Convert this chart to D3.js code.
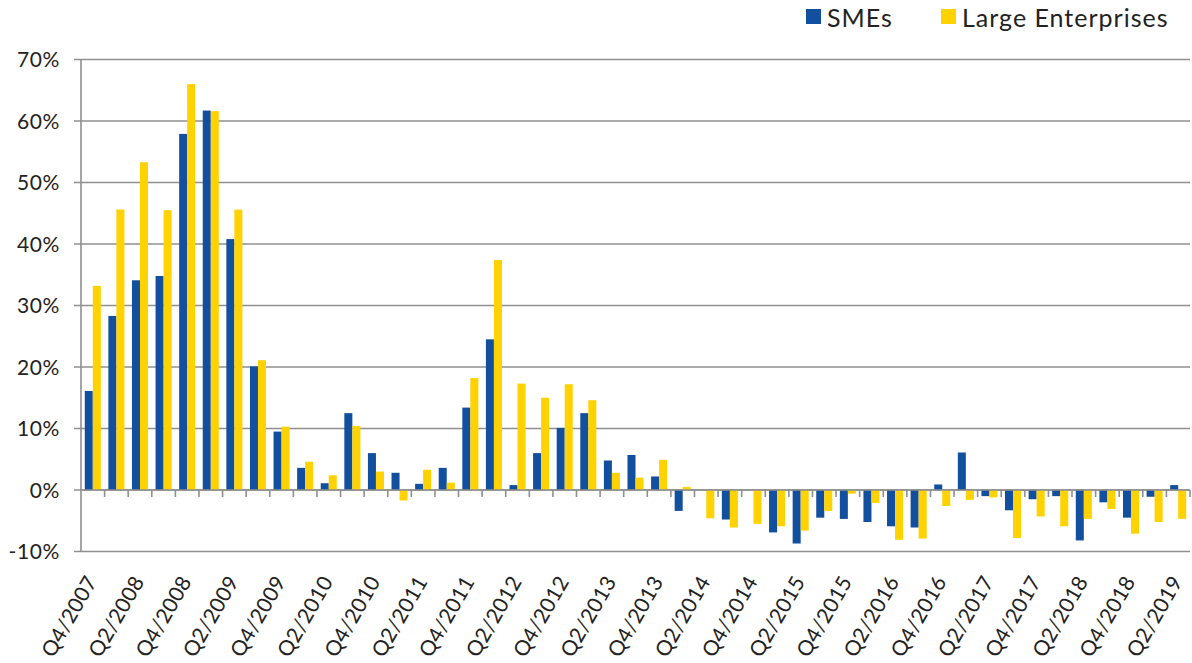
<!DOCTYPE html>
<html>
<head>
<meta charset="utf-8">
<script src="https://cdn.jsdelivr.net/npm/d3@7"></script>
<style>
  body { margin: 0; background: #fff; }
  svg text { font-family: Lato, "Open Sans", sans-serif; fill: #222; }
</style>
</head>
<body>
<div id="chart"></div>
<script>
// quarterly values in percent, Q4/2007 .. Q2/2019
var quarters = ['Q4/2007',
  'Q1/2008','Q2/2008','Q3/2008','Q4/2008',
  'Q1/2009','Q2/2009','Q3/2009','Q4/2009',
  'Q1/2010','Q2/2010','Q3/2010','Q4/2010',
  'Q1/2011','Q2/2011','Q3/2011','Q4/2011',
  'Q1/2012','Q2/2012','Q3/2012','Q4/2012',
  'Q1/2013','Q2/2013','Q3/2013','Q4/2013',
  'Q1/2014','Q2/2014','Q3/2014','Q4/2014',
  'Q1/2015','Q2/2015','Q3/2015','Q4/2015',
  'Q1/2016','Q2/2016','Q3/2016','Q4/2016',
  'Q1/2017','Q2/2017','Q3/2017','Q4/2017',
  'Q1/2018','Q2/2018','Q3/2018','Q4/2018',
  'Q1/2019','Q2/2019'];

var smes = [16.1,
  28.3, 34.1, 34.8, 57.9,
  61.7, 40.8, 20.1, 9.5,
  3.6, 1.1, 12.5, 6.0,
  2.8, 1.0, 3.6, 13.4,
  24.5, 0.8, 6.0, 10.1,
  12.5, 4.8, 5.7, 2.2,
  -3.4, 0, -4.8, 0,
  -6.9, -8.7, -4.5, -4.7,
  -5.2, -5.9, -6.1, 0.9,
  6.1, -1.0, -3.3, -1.5,
  -1.0, -8.2, -2.0, -4.5,
  -1.1, 0.8];

var large = [33.2,
  45.6, 53.3, 45.5, 66.0,
  61.6, 45.6, 21.1, 10.3,
  4.6, 2.4, 10.4, 3.0,
  -1.7, 3.3, 1.2, 18.2,
  37.4, 17.3, 15.0, 17.2,
  14.6, 2.8, 2.0, 4.9,
  0.5, -4.6, -6.1, -5.5,
  -5.9, -6.6, -3.4, -0.6,
  -2.1, -8.1, -7.9, -2.6,
  -1.6, -1.2, -7.8, -4.3,
  -5.9, -4.7, -3.1, -7.1,
  -5.2, -4.7];

var seriesNames = ['SMEs', 'Large Enterprises'];
var seriesColors = ['#12509f', '#ffd200'];
var yTicks = [-10, 0, 10, 20, 30, 40, 50, 60, 70];

var W = 1192, H = 663;
var plotL = 81, plotR = 1190, plotT = 59.5, plotB = 551.5;
var grey = '#8f8f8f';

var svg = d3.select('#chart').append('svg')
  .attr('width', W)
  .attr('height', H);

var x0 = d3.scaleBand()
  .domain(quarters)
  .range([plotL, plotR])
  .paddingInner(0.32)
  .paddingOuter(0.16);

var x1 = d3.scaleBand()
  .domain(seriesNames)
  .range([0, x0.bandwidth()]);

var y = d3.scaleLinear()
  .domain([-10, 70])
  .range([plotB, plotT]);

// gridlines + y ticks
svg.append('g').selectAll('line')
  .data(yTicks)
  .enter().append('line')
    .attr('x1', plotL - 7)
    .attr('x2', plotR)
    .attr('y1', function(d){ return y(d); })
    .attr('y2', function(d){ return y(d); })
    .attr('stroke', grey)
    .attr('stroke-width', 1.6);

svg.append('g').selectAll('text')
  .data(yTicks)
  .enter().append('text')
    .attr('x', plotL - 21)
    .attr('y', function(d){ return y(d) + 7.5; })
    .attr('text-anchor', 'end')
    .style('font-size', '21px')
    .style('letter-spacing', '0.6px')
    .text(function(d){ return d + '%'; });

// bars
var rows = quarters.map(function(q, i){
  return [{q: q, s: seriesNames[0], v: smes[i]}, {q: q, s: seriesNames[1], v: large[i]}];
});

svg.append('g').selectAll('g')
  .data(rows)
  .enter().append('g')
    .attr('transform', function(d){ return 'translate(' + x0(d[0].q) + ',0)'; })
  .selectAll('rect')
  .data(function(d){ return d; })
  .enter().append('rect')
    .attr('x', function(d){ return x1(d.s); })
    .attr('width', x1.bandwidth())
    .attr('y', function(d){ return y(Math.max(0, d.v)); })
    .attr('height', function(d){ return Math.abs(y(d.v) - y(0)); })
    .attr('fill', function(d, i){ return seriesColors[i]; });

// y axis line and zero axis with category ticks
svg.append('line')
  .attr('x1', plotL).attr('x2', plotL)
  .attr('y1', plotT).attr('y2', plotB)
  .attr('stroke', grey)
  .attr('stroke-width', 1.6);

svg.append('line')
  .attr('x1', plotL).attr('x2', plotR)
  .attr('y1', y(0)).attr('y2', y(0))
  .attr('stroke', grey)
  .attr('stroke-width', 1.6);

var step = x0.step();
svg.append('g').selectAll('line')
  .data(quarters)
  .enter().append('line')
    .attr('x1', function(d, i){ return plotL + step * (i + 1); })
    .attr('x2', function(d, i){ return plotL + step * (i + 1); })
    .attr('y1', y(0))
    .attr('y2', y(0) + 7)
    .attr('stroke', grey)
    .attr('stroke-width', 1.6);

// category labels, every second quarter, rotated
svg.append('g').selectAll('text')
  .data(quarters.filter(function(d, i){ return i % 2 === 0; }))
  .enter().append('text')
    .attr('transform', function(d){
      var cx = x0(d) + x0.bandwidth() / 2 + 5;
      return 'translate(' + cx + ',' + (plotB + 30) + ') rotate(-60)';
    })
    .attr('text-anchor', 'end')
    .style('font-size', '21px')
    .style('letter-spacing', '0.3px')
    .text(function(d){ return d; });

// legend
var legendX = [806, 941];
var legend = svg.append('g').selectAll('g')
  .data(seriesNames)
  .enter().append('g')
    .attr('transform', function(d, i){ return 'translate(' + legendX[i] + ',9)'; });
legend.append('rect')
  .attr('width', 15)
  .attr('height', 15)
  .attr('fill', function(d, i){ return seriesColors[i]; });
legend.append('text')
  .attr('x', 21)
  .attr('y', 18)
  .style('font-size', '25px')
  .style('letter-spacing', '1px')
  .text(function(d){ return d; });
</script>
</body>
</html>
